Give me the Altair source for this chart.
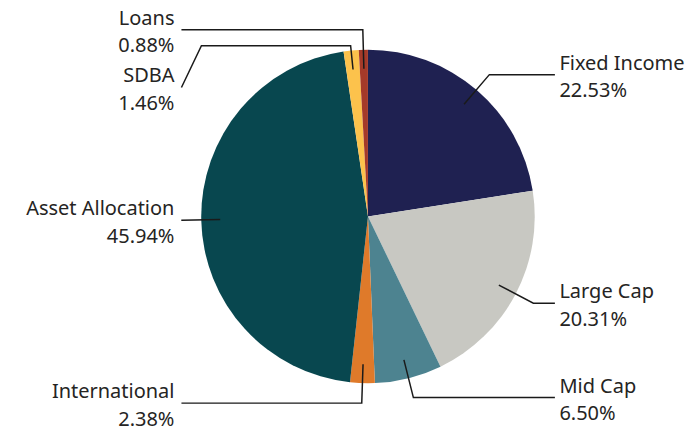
import math
import altair as alt
import pandas as pd

# ---- data ----
categories = ["Fixed Income", "Large Cap", "Mid Cap", "International",
              "Asset Allocation", "SDBA", "Loans"]
values = [22.53, 20.31, 6.50, 2.38, 45.94, 1.46, 0.88]
colors = ["#1f2151", "#c8c8c2", "#4d8390", "#df7a2a", "#08474f", "#fcc24c", "#a53a29"]

# ---- layout (chart coordinates, px) ----
W, H = 677, 412
CX, CY, R = 360.5, 207.5, 167
R_IN, R_EL = 148, 187
RIGHT_END, LEFT_END = 547.7, 173.7
LAST_SEG = 20
BLOCK = 57.7
FONT = "Segoe UI, Noto Sans, Open Sans, sans-serif"
FS = 20

total = sum(values)
rows = [{"cat": c, "value": v, "order": i} for i, (c, v) in enumerate(zip(categories, values))]

info = []
cum = 0.0
for i, (c, v) in enumerate(zip(categories, values)):
    a = 2 * math.pi * (cum + v / 2) / total
    cum += v
    side = "right" if math.sin(a) > 0 else "left"
    info.append({"cat": c, "v": v, "a": a, "side": side, "i": i})

# left labels processed from top to bottom, pushed down when crowded
left_sorted = sorted([d for d in info if d["side"] == "left"],
                     key=lambda d: CY - R_EL * math.cos(d["a"]))
prev = None
for d in left_sorted:
    nat_y = CY - R_EL * math.cos(d["a"])
    if prev is not None and nat_y < prev + BLOCK:
        d["moved"] = True
        d["ly"] = prev + BLOCK
    else:
        d["moved"] = False
        d["ly"] = nat_y
    prev = d["ly"]
for d in info:
    if d["side"] == "right":
        d["moved"] = False
        d["ly"] = CY - R_EL * math.cos(d["a"])

lines, labels = [], []
for d in info:
    a = d["a"]
    r_el = R + 5 if d["moved"] else R_EL
    p0 = (CX + R_IN * math.sin(a), CY - R_IN * math.cos(a))
    p1 = (CX + r_el * math.sin(a), CY - r_el * math.cos(a))
    if d["side"] == "right":
        xend = RIGHT_END
        xturn = xend - LAST_SEG
    else:
        xend = LEFT_END
        xturn = xend + LAST_SEG
    pts = [p0, p1, (xturn, p1[1]), (xend, d["ly"])]
    for k, (x, y) in enumerate(pts):
        lines.append({"cat": d["cat"], "k": k, "x": x, "y": y})
    labels.append({
        "cat": d["cat"], "side": d["side"],
        "pct": f"{d['v']:.2f}%",
        "tx": xend + 4.5 if d["side"] == "right" else xend - 7,
        "ny": d["ly"] - 5, "py": d["ly"] + 22.5,
    })

pie_df = pd.DataFrame(rows)
line_df = pd.DataFrame(lines)
lab_df = pd.DataFrame(labels)

xs = alt.Scale(domain=[0, W], range=[0, W])
ys = alt.Scale(domain=[0, H], range=[0, H])

pie = alt.Chart(pie_df).mark_arc(radius=R).encode(
    theta=alt.Theta("value:Q", stack=True),
    order=alt.Order("order:Q"),
    color=alt.Color("cat:N", scale=alt.Scale(domain=categories, range=colors), legend=None),
    x=alt.value(CX), y=alt.value(CY),
)

leader = alt.Chart(line_df).mark_line(color="#1a1a1a", strokeWidth=1.5).encode(
    x=alt.X("x:Q", scale=xs, axis=None),
    y=alt.Y("y:Q", scale=ys, axis=None),
    detail="cat:N",
    order="k:Q",
)

def text_layer(side, align):
    base = alt.Chart(lab_df).transform_filter(alt.datum.side == side)
    kw = dict(align=align, baseline="alphabetic", font=FONT, fontSize=FS, color="#252423")
    n = base.mark_text(**kw).encode(
        x=alt.X("tx:Q", scale=xs, axis=None), y=alt.Y("ny:Q", scale=ys, axis=None), text="cat:N")
    p = base.mark_text(**kw).encode(
        x=alt.X("tx:Q", scale=xs, axis=None), y=alt.Y("py:Q", scale=ys, axis=None), text="pct:N")
    return n + p

chart = alt.layer(pie, leader, text_layer("right", "left"), text_layer("left", "right")).properties(
    width=W, height=H, padding=0
).configure_view(stroke=None)

chart.save("out.html", embed_options={"renderer": "svg", "actions": False})
